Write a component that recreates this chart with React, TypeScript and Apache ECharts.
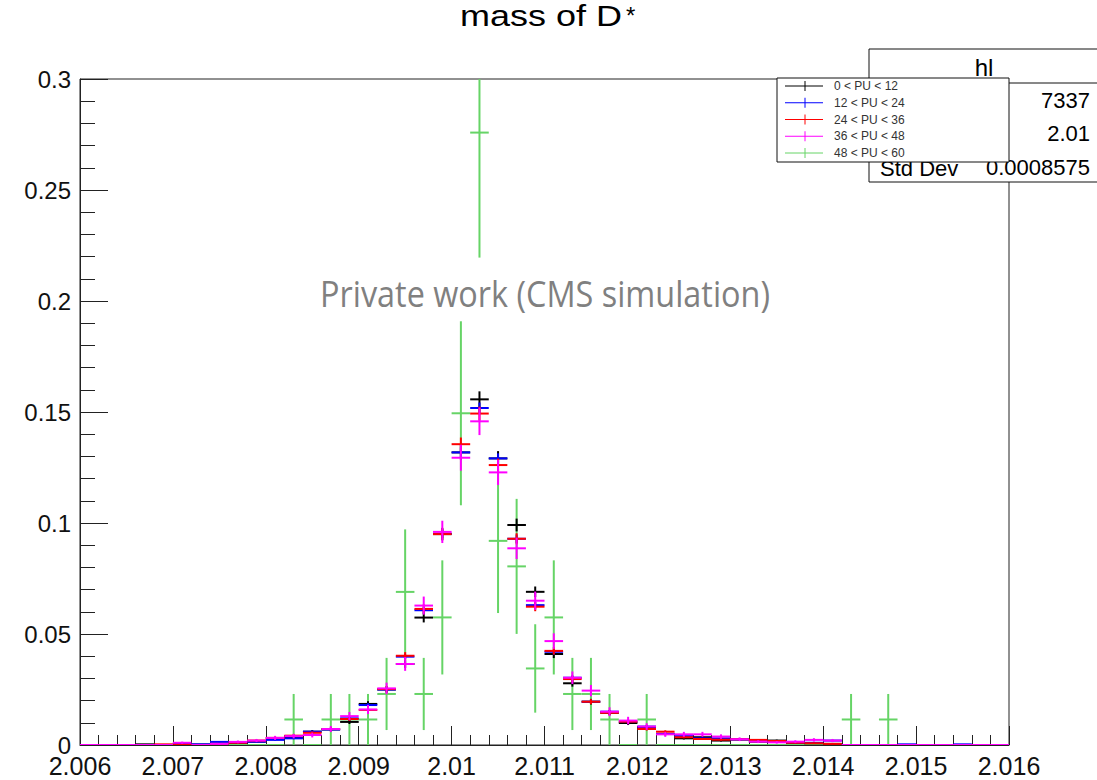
import React, { useEffect, useRef } from "react";
import * as echarts from "echarts";

// ---- data ----
const BIN_LOW = 2.006;
const BIN_WIDTH = 0.0002;
const X_TICKS = [2.006, 2.016, 0.001]; // min, max, step
const Y_TICKS = [0, 0.3, 0.05];

const SERIES_NAMES = ["0 < PU < 12", "12 < PU < 24", "24 < PU < 36", "36 < PU < 48", "48 < PU < 60"];
const SERIES_COLORS = ["#000000", "#0000ff", "#ff0000", "#ff00ff", "#66d466"];

// normalised bin contents (50 bins of 0.0002)
const PU_0_12 = [
  0, 0, 0, 0.0003, 0, 0.0007, 0.0002, 0.0005, 0.001, 0.0015,
  0.003, 0.0035, 0.006, 0.007, 0.0104, 0.0185, 0.025, 0.0365, 0.0574, 0.095,
  0.1318, 0.1557, 0.1291, 0.0991, 0.069, 0.041, 0.0278, 0.0195, 0.0145, 0.0099,
  0.008, 0.005, 0.003, 0.0035, 0.002, 0.0025, 0.0015, 0.002, 0.001, 0.0008,
  0.0005, 0, 0, 0, 0, 0, 0, 0, 0, 0,
];
const PU_12_24 = [
  0, 0, 0, 0, 0, 0.0003, 0.0003, 0.0014, 0.001, 0.0015,
  0.0023, 0.003, 0.006, 0.007, 0.012, 0.018, 0.025, 0.0398, 0.0607, 0.0952,
  0.1318, 0.1518, 0.1291, 0.0929, 0.063, 0.042, 0.0303, 0.0195, 0.015, 0.0105,
  0.0083, 0.005, 0.004, 0.003, 0.003, 0.0025, 0.002, 0.0015, 0.001, 0.001,
  0.002, 0, 0, 0, 0.0003, 0, 0, 0.0003, 0, 0,
];
const PU_24_36 = [
  0, 0, 0, 0, 0.0003, 0, 0, 0.0005, 0.001, 0.002,
  0.0032, 0.0042, 0.0055, 0.0072, 0.0117, 0.0158, 0.0252, 0.0402, 0.0613, 0.095,
  0.1355, 0.1493, 0.1261, 0.0929, 0.0623, 0.0424, 0.0297, 0.0195, 0.0145, 0.0105,
  0.0072, 0.006, 0.0035, 0.0027, 0.0024, 0.0026, 0.0023, 0.0018, 0.001, 0.0008,
  0.0005, 0, 0, 0, 0, 0, 0, 0, 0, 0,
];
const PU_36_48 = [
  0, 0, 0, 0, 0, 0.001, 0, 0.0005, 0.0014, 0.002,
  0.0032, 0.004, 0.0045, 0.0072, 0.013, 0.016, 0.0255, 0.0365, 0.0628, 0.096,
  0.1294, 0.1458, 0.1228, 0.0886, 0.065, 0.0468, 0.0303, 0.0245, 0.015, 0.011,
  0.0083, 0.0048, 0.0048, 0.0048, 0.0038, 0.0026, 0.0015, 0.0012, 0.0015, 0.0023,
  0.002, 0, 0, 0, 0, 0, 0, 0, 0, 0,
];
// raw counts for the 48 < PU < 60 sample
const PU_48_60_COUNTS = [
  0, 0, 0, 0, 0, 0, 0, 0, 0, 0,
  0, 1, 0, 1, 1, 1, 2, 6, 2, 5,
  13, 24, 8, 7, 3, 5, 2, 2, 1, 0,
  1, 0, 0, 0, 0, 0, 0, 0, 0, 0,
  0, 1, 0, 1, 0, 0, 0, 0, 0, 0,
];
const PU_48_60_TOTAL = 87;
// effective entries per sample (for statistical error bars)
const EFFECTIVE_ENTRIES = [12000, 25000, 15000, 3800];

const STATS_LABELS = ["Std Dev"];
const STATS_VALUES = ["7337", "2.01", "0.0008575"];

export default function App() {
  const ref = useRef<HTMLDivElement>(null);
  useEffect(() => {
    if (!ref.current) return;
    const chart = echarts.init(ref.current, undefined, { renderer: "svg" });

    const makeData = (vals: number[], n: number) =>
      vals.map((v, k) => [BIN_LOW + BIN_WIDTH * (k + 0.5), v, Math.sqrt(v / n)]);

    const greenData = PU_48_60_COUNTS.map((c, k) => [
      BIN_LOW + BIN_WIDTH * (k + 0.5),
      c / PU_48_60_TOTAL,
      Math.sqrt(c) / PU_48_60_TOTAL,
    ]);

    const makeRender = (color: string) => (params: any, api: any) => {
      const x = api.value(0);
      const v = api.value(1);
      const e = api.value(2);
      const l = api.coord([x - BIN_WIDTH / 2, v]);
      const r = api.coord([x + BIN_WIDTH / 2, v]);
      const t = api.coord([x, v + e]);
      const b = api.coord([x, v - e]);
      const children: any[] = [
        { type: "line", shape: { x1: l[0], y1: l[1], x2: r[0], y2: r[1] }, style: { stroke: color, lineWidth: 2 } },
      ];
      if (b[1] - t[1] > 0.5) {
        children.push({
          type: "line",
          shape: { x1: t[0], y1: t[1], x2: b[0], y2: b[1] },
          style: { stroke: color, lineWidth: 2 },
        });
      }
      return { type: "group", children };
    };

    const mainSets = [PU_0_12, PU_12_24, PU_24_36, PU_36_48];
    const series: any[] = [
      {
        type: "custom",
        name: SERIES_NAMES[4],
        data: greenData,
        renderItem: makeRender(SERIES_COLORS[4]),
        clip: true,
        encode: { x: 0, y: 1 },
        z: 2,
      },
      ...mainSets.map((vals, i) => ({
        type: "custom",
        name: SERIES_NAMES[i],
        data: makeData(vals, EFFECTIVE_ENTRIES[i]),
        renderItem: makeRender(SERIES_COLORS[i]),
        clip: true,
        encode: { x: 0, y: 1 },
        z: 3 + i,
      })),
    ];

    const legendEls: any[] = [];
    SERIES_NAMES.forEach((name, i) => {
      const y = 86 + i * 16.75;
      legendEls.push(
        { type: "line", z: 301, shape: { x1: 785, y1: y, x2: 823, y2: y }, style: { stroke: SERIES_COLORS[i], lineWidth: 1 } },
        { type: "line", z: 301, shape: { x1: 805, y1: y - 5, x2: 805, y2: y + 5 }, style: { stroke: SERIES_COLORS[i], lineWidth: 1 } },
        {
          type: "text",
          z: 301,
          x: 834,
          y: y,
          style: {
            text: name,
            fill: "#333",
            font: '12px "Liberation Sans", Arial, sans-serif',
            textVerticalAlign: "middle",
            textAlign: "left",
          },
        }
      );
    });

    const font = (s: number) => `${s}px "Liberation Sans", Arial, sans-serif`;

    chart.setOption({
      animation: false,
      backgroundColor: "#ffffff",
      grid: {
        left: 80,
        top: 79,
        right: 88,
        bottom: 35,
        show: true,
        borderColor: "#222",
        borderWidth: 1,
        backgroundColor: "transparent",
      },
      xAxis: {
        type: "value",
        min: X_TICKS[0],
        max: X_TICKS[1],
        interval: X_TICKS[2],
        axisLine: { show: true, onZero: false, lineStyle: { color: "#222", width: 1 } },
        axisTick: { show: true, inside: true, length: 19, lineStyle: { color: "#222", width: 1 } },
        minorTick: { show: true, splitNumber: 5, length: 10, lineStyle: { color: "#222", width: 1 } },
        splitLine: { show: false },
        axisLabel: {
          show: true,
          margin: 8,
          color: "#111",
          fontSize: 25,
          fontFamily: '"Liberation Sans", Arial, sans-serif',
          showMinLabel: true,
          showMaxLabel: true,
          formatter: (v: number) => String(parseFloat(v.toFixed(4))),
        },
      },
      yAxis: {
        type: "value",
        min: Y_TICKS[0],
        max: Y_TICKS[1],
        interval: Y_TICKS[2],
        axisLine: { show: true, onZero: false, lineStyle: { color: "#222", width: 1 } },
        axisTick: { show: true, inside: true, length: 28, lineStyle: { color: "#222", width: 1 } },
        minorTick: { show: true, splitNumber: 5, length: 15, lineStyle: { color: "#222", width: 1 } },
        splitLine: { show: false },
        axisLabel: {
          show: true,
          margin: 9,
          color: "#111",
          fontSize: 24,
          fontFamily: '"Liberation Sans", Arial, sans-serif',
          showMinLabel: true,
          showMaxLabel: true,
          formatter: (v: number) => String(parseFloat(v.toFixed(3))),
        },
      },
      series,
      graphic: [
        // title
        {
          type: "text",
          x: 460,
          y: 31,
          scaleX: 1.2,
          style: { text: "mass of D", fill: "#000", font: font(30), textAlign: "left", textVerticalAlign: "bottom" },
        },
        {
          type: "text",
          x: 626,
          y: 3,
          style: { text: "*", fill: "#000", font: font(24), textAlign: "left", textVerticalAlign: "top" },
        },
        // watermark
        {
          type: "text",
          x: 545,
          y: 293,
          scaleX: 0.9,
          style: {
            text: "Private work (CMS simulation)",
            fill: "#808080",
            font: '36px "Open Sans", "Noto Sans", sans-serif',
            textAlign: "center",
            textVerticalAlign: "middle",
          },
          z: 100,
        },
        // stats box
        {
          type: "rect",
          shape: { x: 869, y: 49, width: 260, height: 133 },
          style: { fill: "#fff", stroke: "#111", lineWidth: 1 },
          z: 200,
        },
        {
          type: "line",
          shape: { x1: 869, y1: 83, x2: 1100, y2: 83 },
          style: { stroke: "#111", lineWidth: 1 },
          z: 201,
        },
        {
          type: "text",
          x: 984,
          y: 67,
          style: { text: "hl", fill: "#000", font: font(24), textAlign: "center", textVerticalAlign: "middle" },
          z: 201,
        },
        ...STATS_VALUES.map((s, i) => ({
          type: "text",
          x: 1090,
          y: 100 + i * 33.5,
          style: { text: s, fill: "#000", font: font(22), textAlign: "right", textVerticalAlign: "middle" },
          z: 201,
        })),
        {
          type: "text",
          x: 880,
          y: 168,
          style: { text: STATS_LABELS[0], fill: "#000", font: font(22), textAlign: "left", textVerticalAlign: "middle" },
          z: 201,
        },
        // legend box
        {
          type: "rect",
          shape: { x: 777, y: 78, width: 232, height: 84 },
          style: { fill: "#fff", stroke: "#111", lineWidth: 1 },
          z: 300,
        },
        ...legendEls,
      ],
    });
    return () => chart.dispose();
  }, []);

  return (
    <div
      ref={ref}
      style={{ position: "fixed", left: 0, top: 0, width: 1097, height: 780, background: "#fff" }}
    />
  );
}
